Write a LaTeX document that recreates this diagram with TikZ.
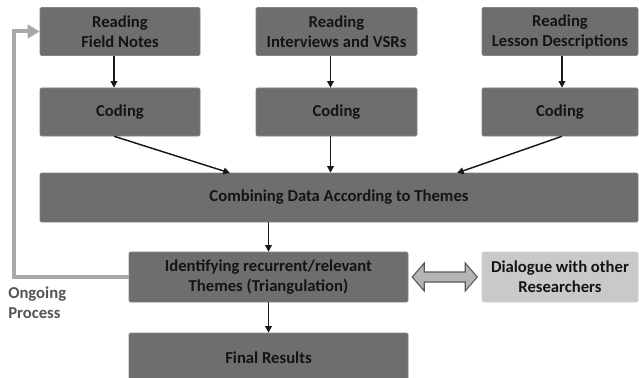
\documentclass[tikz,border=0pt]{standalone}
\usepackage{fontspec}
\setmainfont{Carlito}
\usetikzlibrary{arrows.meta,calc}
\definecolor{boxgray}{HTML}{6E6E6E}
\definecolor{lightgray}{HTML}{C9C9C9}
\definecolor{loopgray}{HTML}{A8A8A8}
\definecolor{notegray}{HTML}{555555}
\begin{document}
\begin{tikzpicture}[x=0.75pt,y=-0.75pt,
  box/.style={fill=boxgray,draw=boxgray!85!white,rounded corners=1pt,align=center,font=\bfseries\fontsize{12.5}{15}\selectfont,text=black!92,inner sep=0pt},
  lightbox/.style={box,fill=lightgray,draw=lightgray!90!white},
  arr/.style={-{Triangle[length=5pt,width=5pt]},line width=1.1pt,black!90},
  back/.style={-{Triangle[length=9pt,width=10pt]},line width=3pt,loopgray},
  darr/.style={draw=black!65,fill=lightgray!90!black,line width=0.8pt,line join=miter}]
\useasboundingbox (0,0) rectangle (639,378);
% reading row
\node[box,minimum width=120pt,minimum height=36pt] (fn) at (120,31.5) {Reading\\Field Notes};
\node[box,minimum width=120.75pt,minimum height=36pt] (iv) at (336.5,31.5) {Reading\\Interviews and VSRs};
\node[box,minimum width=117pt,minimum height=36pt] (ld) at (560,31.5) {Reading\\Lesson Descriptions};
% coding row
\node[box,minimum width=120pt,minimum height=36pt] (c1) at (120,112) {Coding};
\node[box,minimum width=120.75pt,minimum height=36pt] (c2) at (336.5,112) {Coding};
\node[box,minimum width=117pt,minimum height=36pt] (c3) at (560,112) {Coding};
\node[box,minimum width=448.5pt,minimum height=36.75pt] (comb) at (339,197.5) {Combining Data According to Themes};
\node[box,minimum width=209.25pt,minimum height=37.5pt] (ident) at (268.5,277) {Identifying recurrent/relevant\\Themes (Triangulation)};
\node[lightbox,minimum width=117pt,minimum height=37.5pt] (dial) at (560,277) {Dialogue with other\\Researchers};
\node[box,minimum width=209.25pt,minimum height=37.5pt] (final) at (268.5,358) {Final Results};
\node[align=left,anchor=west,text=notegray,font=\bfseries\fontsize{12.5}{15}\selectfont,inner sep=0pt] (og) at (8,303) {Ongoing\\Process};
\coordinate (in1) at (230,173);
\coordinate (in3) at (457,173);
\draw[arr] ([xshift=-4.5pt]fn.south) -- ([xshift=-4.5pt]c1.north);
\draw[arr] ([xshift=-4.5pt]iv.south) -- ([xshift=-4.5pt]c2.north);
\draw[arr] ([xshift=1.5pt]ld.south) -- ([xshift=1.5pt]c3.north);
\draw[arr] ([xshift=-4.5pt]c1.south) -- (in1);
\draw[arr] ([xshift=-4.5pt]c2.south) -- ([xshift=-4.5pt]c2.south |- comb.north);
\draw[arr] ([xshift=1.5pt]c3.south) -- (in3);
\draw[arr] (comb.south -| ident.north) -- (ident.north);
\draw[arr] (ident) -- (final);
\draw[back] (ident.west) -- ++(-115,0) |- (fn.west);
% two-way arrow
\draw[darr] ($(ident.east)+(4,0)$) -- ++(12,-14) -- ++(0,9) -- ++(41,0) -- ++(0,-9) -- ++(12,14)
  -- ++(-12,14) -- ++(0,-9) -- ++(-41,0) -- ++(0,9) -- cycle;
\end{tikzpicture}
\end{document}
